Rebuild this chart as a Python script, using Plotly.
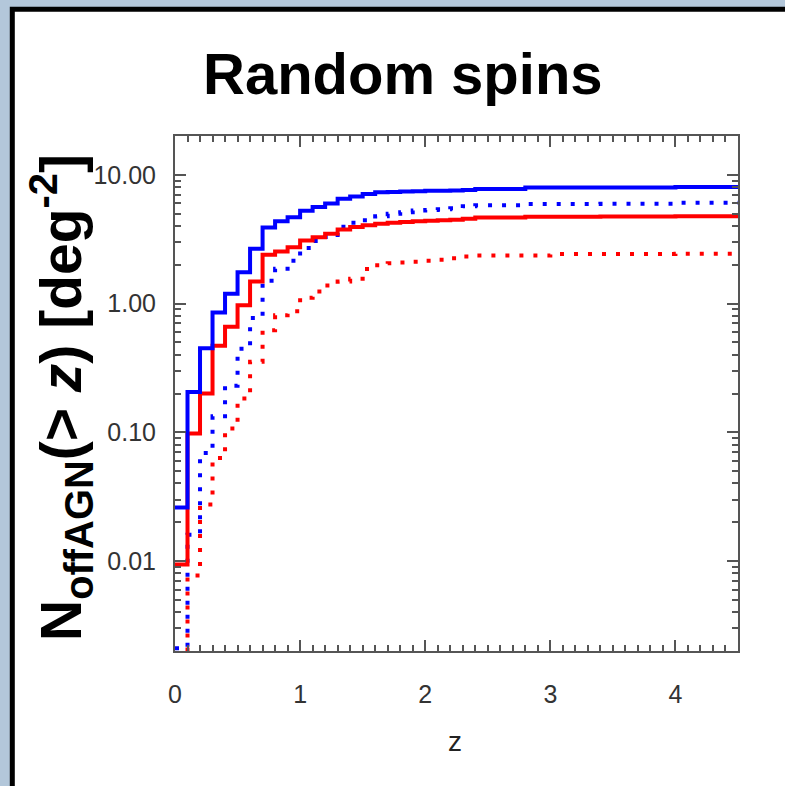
import numpy as np
import plotly.graph_objects as go

# bin edges in redshift
z_edges = [0.0, 0.1, 0.2, 0.3, 0.4, 0.5, 0.6, 0.7, 0.8, 0.9, 1.0, 1.1, 1.2, 1.3,
           1.4, 1.5, 1.6, 1.7, 1.8, 1.9, 2.0, 2.1, 2.2, 2.3, 2.4, 2.8, 3.0, 3.4,
           4.0, 4.5]

# cumulative counts N(>z) [deg^-2] per bin
blue_solid = [0.026, 0.205, 0.45, 0.85, 1.19, 1.75, 2.66, 3.9, 4.35, 4.67,
              5.25, 5.63, 5.97, 6.5, 6.79, 7.1, 7.3, 7.35, 7.4, 7.45, 7.5,
              7.52, 7.56, 7.6, 7.75, 7.95, 7.95, 7.97, 8.05]
red_solid = [0.0094, 0.098, 0.20, 0.47, 0.66, 0.97, 1.48, 2.39, 2.53, 2.74,
             3.08, 3.27, 3.48, 3.75, 3.92, 4.06, 4.16, 4.24, 4.3, 4.35, 4.39,
             4.44, 4.48, 4.55, 4.65, 4.72, 4.72, 4.73, 4.76]
blue_dotted = [0.0021, 0.016, 0.069, 0.133, 0.23, 0.445, 0.77, 1.5, 1.86,
               2.15, 2.7, 3.06, 3.29, 3.95, 4.24, 4.44, 4.76, 4.98, 5.12,
               5.27, 5.33, 5.39, 5.49, 5.69, 5.79, 5.93, 5.93, 5.95, 6.05]
red_dotted = [0.0015, 0.0077, 0.0275, 0.063, 0.107, 0.183, 0.353, 0.62, 0.81,
              0.87, 1.11, 1.24, 1.38, 1.48, 1.56, 1.85, 1.98, 2.05, 2.08,
              2.11, 2.15, 2.19, 2.25, 2.32, 2.36, 2.36, 2.42, 2.42, 2.43]

y_tickvals = [0.01, 0.1, 1, 10]
y_ticktext = ["0.01", "0.10", "1.00", "10.00"]
x_tickvals = [0, 1, 2, 3, 4]

W, H = 785, 786
L, R, T, B = 175, 738, 136, 651


def px_x(p):
    return (p - L) / (R - L)


def px_y(p):
    return (B - p) / (B - T)


def step(vals):
    return z_edges, list(vals) + [vals[-1]]


fig = go.Figure()
series = [
    (red_dotted, "#ff0000", "4px,10px"),
    (blue_dotted, "#0000ff", "4px,10px"),
    (red_solid, "#ff0000", "solid"),
    (blue_solid, "#0000ff", "solid"),
]
for vals, col, dash in series:
    xs, ys = step(vals)
    fig.add_trace(go.Scatter(x=xs, y=ys, mode="lines", line_shape="hv",
                             line=dict(color=col, width=4, dash=dash),
                             showlegend=False, hoverinfo="skip"))

minor_y = [k * 10.0 ** e for e in range(-3, 2) for k in range(2, 10)
           if 0.002 <= k * 10.0 ** e <= 20]

FONT = "Liberation Sans, Arial, sans-serif"
tickfont = dict(family=FONT, size=25, color="#333333")
axcol = "#555555"

fig.update_xaxes(range=[0, 4.5], tickvals=x_tickvals, ticks="inside", ticklen=11,
                 tickwidth=1.5, tickcolor=axcol, showline=True, linecolor=axcol,
                 linewidth=2, mirror="allticks", showgrid=False, zeroline=False,
                 tickfont=tickfont, ticklabelstandoff=20,
                 minor=dict(dtick=0.1, tick0=0, ticks="inside", ticklen=6,
                            tickwidth=1.5, tickcolor=axcol, showgrid=False))
fig.update_yaxes(type="log", range=[np.log10(0.002), np.log10(20)],
                 tickvals=y_tickvals, ticktext=y_ticktext, ticks="inside",
                 ticklen=11, tickwidth=1.5, tickcolor=axcol, showline=True,
                 linecolor=axcol, linewidth=2, mirror="allticks", showgrid=False,
                 zeroline=False, tickfont=tickfont, ticklabelstandoff=12,
                 minor=dict(tickvals=minor_y, ticks="inside", ticklen=6,
                            tickwidth=1.5, tickcolor=axcol, showgrid=False))

# outer frame
fig.add_shape(type="rect", xref="paper", yref="paper",
              x0=px_x(12.3), x1=px_x(900), y0=px_y(900), y1=px_y(9.2),
              line=dict(color="black", width=5), fillcolor="white", layer="below")

fig.add_annotation(text="<b>Random spins</b>", xref="paper", yref="paper",
                   x=px_x(403), y=px_y(73), xanchor="center", yanchor="middle",
                   showarrow=False, font=dict(family=FONT, size=58, color="black"))
fig.add_annotation(text="<b>N<sub>offAGN</sub>(&gt; <i>z</i>) [deg<sup>-2</sup>]</b>",
                   xref="paper", yref="paper", x=px_x(61), y=px_y(398),
                   xanchor="center", yanchor="middle",
                   textangle=-90, showarrow=False,
                   font=dict(family=FONT, size=57, color="black"))
fig.add_annotation(text="z", xref="paper", yref="paper", x=px_x(455), y=px_y(741),
                   xanchor="center", yanchor="middle", showarrow=False,
                   font=dict(family=FONT, size=28, color="#222222"))

fig.update_layout(width=W, height=H, margin=dict(l=L, r=W - R, t=T, b=H - B),
                  paper_bgcolor="#b3c7da", plot_bgcolor="white", showlegend=False)

fig.write_html("out.html")
